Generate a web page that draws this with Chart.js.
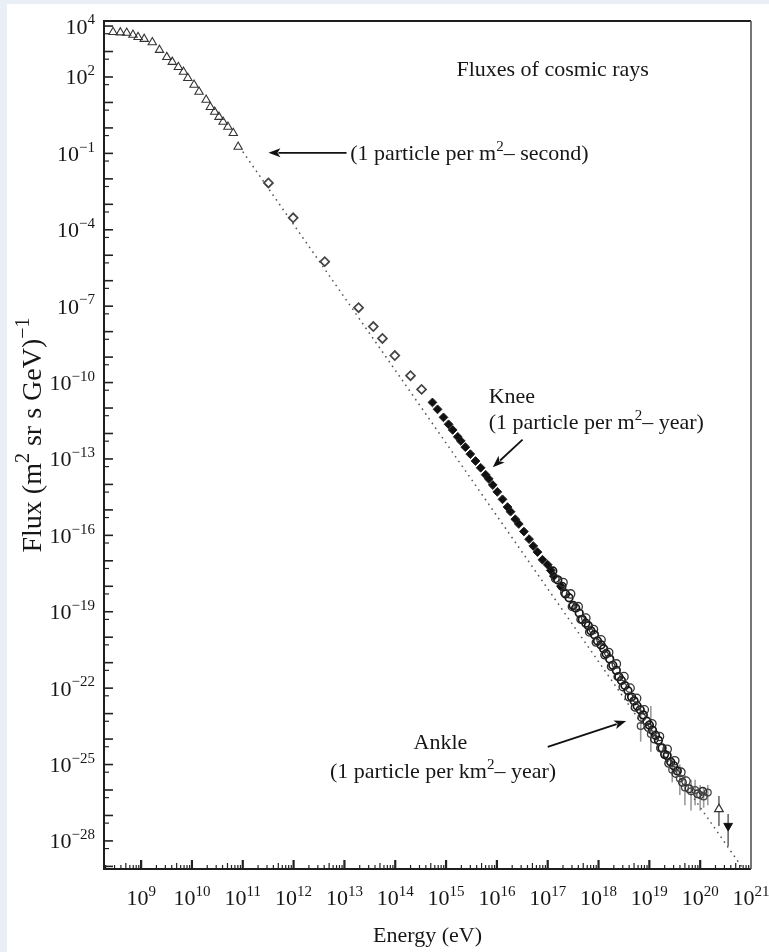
<!DOCTYPE html>
<html><head><meta charset="utf-8">
<script src="https://cdn.jsdelivr.net/npm/chart.js@4.4.1/dist/chart.umd.min.js"></script>
<style>
html,body{margin:0;padding:0;background:#e9eef7;width:769px;height:952px;overflow:hidden;}
#panel{position:absolute;left:7px;top:4px;width:762px;height:948px;background:#fff;}
canvas{display:block;}
</style></head><body>
<div id="panel"><canvas id="c" width="762" height="948"></canvas></div>
<script>
// ---------- data (energy in eV, flux in (m^2 sr s GeV)^-1) ----------
const triE = [2.8e8, 3.9e8, 5.2e8, 6.9e8, 8.7e8, 1.15e9, 1.66e9, 2.3e9, 3.2e9, 4.1e9, 5.4e9, 6.8e9, 8.3e9, 1.1e10, 1.38e10, 1.9e10, 2.3e10, 2.8e10, 3.4e10, 4.1e10, 5.1e10, 6.5e10, 8.1e10];
const triF = [5.8e3, 5.6e3, 5.4e3, 4.5e3, 3.7e3, 3.1e3, 2.3e3, 1.15e3, 600, 390, 245, 160, 91, 49, 26, 12.6, 6.6, 4.3, 2.7, 1.74, 1.1, 0.63, 0.18];

const diaE = [3.2e11, 9.8e11, 4.1e12, 1.9e13, 3.7e13, 5.6e13, 9.8e13, 2.0e14, 3.3e14];
const diaF = [6.9e-3, 2.95e-4, 5.6e-6, 8.7e-8, 1.58e-8, 5.4e-9, 1.15e-9, 1.86e-10, 5.4e-11];

const kneeE = [5.4e14, 6.8e14, 8.9e14, 1.12e15, 1.35e15, 1.7e15, 1.95e15, 2.4e15, 3.0e15, 3.8e15, 4.8e15, 6.0e15, 6.9e15, 8.3e15, 1.02e16, 1.29e16, 1.62e16, 1.86e16, 2.3e16, 2.7e16, 3.4e16, 4.3e16, 5.2e16, 6.3e16, 7.9e16, 1.0e17, 1.15e17, 1.32e17, 1.82e17];
const kneeF = [1.66e-11, 8.9e-12, 4.3e-12, 2.3e-12, 1.38e-12, 7.4e-13, 5.1e-13, 2.9e-13, 1.55e-13, 8.3e-14, 4.5e-14, 2.4e-14, 1.66e-14, 9.5e-15, 5.1e-15, 2.6e-15, 1.29e-15, 8.5e-16, 4.3e-16, 2.8e-16, 1.41e-16, 7.1e-17, 3.8e-17, 2.2e-17, 1.1e-17, 7.0e-18, 4.2e-18, 2.5e-18, 1.0e-18];

const bandE = [1.26e17, 1.58e17, 1.91e17, 2.24e17, 2.63e17, 3.16e17, 3.55e17, 4.17e17, 4.79e17, 5.62e17, 6.31e17, 7.08e17, 8.32e17, 9.55e17, 1.12e18, 1.26e18, 1.41e18, 1.66e18, 1.91e18, 2.24e18, 2.51e18, 2.82e18, 3.31e18, 3.80e18, 4.47e18, 5.01e18, 5.75e18, 6.61e18, 7.59e18, 8.91e18, 1.0e19, 1.15e19, 1.32e19, 1.51e19, 1.78e19, 2.0e19, 2.24e19, 2.63e19, 3.02e19, 3.55e19];
const bandF = [3.98e-18, 1.78e-18, 1.0e-18, 5.0e-19, 3.55e-19, 1.78e-19, 1.41e-19, 8.9e-20, 5.0e-20, 3.55e-20, 2.82e-20, 1.78e-20, 1.26e-20, 7.1e-21, 5.0e-21, 3.55e-21, 2.24e-21, 1.41e-21, 7.9e-22, 5.0e-22, 2.82e-22, 2.0e-22, 1.26e-22, 7.9e-23, 4.47e-23, 3.16e-23, 2.0e-23, 1.41e-23, 8.9e-24, 5.0e-24, 3.55e-24, 2.24e-24, 1.41e-24, 8.9e-25, 4.47e-25, 2.51e-25, 2.24e-25, 1.26e-25, 8.9e-26, 5.6e-26];

const outerE = [2.0e17, 2.82e17, 3.98e17, 5.62e17, 7.94e17, 1.12e18, 1.58e18, 2.24e18, 3.16e18, 4.17e18, 5.62e18, 7.94e18, 1.12e19, 1.58e19, 2.24e19, 3.16e19, 4.17e19, 5.25e19];
const outerF = [1.41e-18, 5.0e-19, 1.58e-19, 5.6e-20, 2.0e-20, 7.9e-21, 2.51e-21, 8.9e-22, 2.82e-22, 1.0e-22, 3.98e-23, 1.41e-23, 3.98e-24, 1.26e-24, 3.98e-25, 1.41e-25, 5.0e-26, 2.24e-26];

const innerE = [1.41e17, 2.14e17, 3.02e17, 4.47e17, 6.61e17, 8.91e17, 1.32e18, 1.78e18, 2.4e18, 3.02e18, 3.98e18, 5.25e18, 7.08e18, 9.55e18, 1.26e19, 1.66e19, 2.4e19, 3.31e19, 4.47e19, 6.03e19, 8.91e19, 1.12e20];
const innerF = [2.0e-18, 5.6e-19, 1.58e-19, 5.0e-20, 1.58e-20, 6.3e-21, 2.0e-21, 7.1e-22, 2.82e-22, 1.12e-22, 4.47e-23, 1.78e-23, 7.1e-24, 2.82e-24, 1.0e-24, 4.47e-25, 1.12e-25, 4.47e-26, 2.0e-26, 1.12e-26, 7.1e-27, 8.9e-27];

const errE  = [6.76e18, 1.07e19, 2.82e19, 3.98e19, 5.01e19, 6.61e19, 7.94e19, 1.0e20, 1.17e20, 1.41e20];
const errF  = [3.24e-24, 1.58e-24, 6.3e-26, 2.82e-26, 1.26e-26, 8.9e-27, 1.0e-26, 6.3e-27, 5.6e-27, 7.9e-27];
const errHi = [1.58e-23, 2.0e-23, 2.0e-25, 1.0e-25, 3.98e-26, 2.51e-26, 2.51e-26, 1.58e-26, 1.26e-26, 1.58e-26];
const errLo = [7.9e-25, 3.16e-25, 2.0e-26, 6.3e-27, 2.51e-27, 1.58e-27, 2.51e-27, 1.58e-27, 2.0e-27, 2.51e-27];

const topTriE = [2.34e20], topTriF = [1.78e-27], topTriHi = [5.75e-27], topTriLo = [3.9e-28];
const downTriE = [3.55e20], downTriF = [3.9e-28], downTriHi = [1.15e-27], downTriLo = [6.3e-29];

const guideE = [1.0e11, 7.0e20];
const guideF = [0.117, 8.0e-30];

const energyTicks = [1e9, 1e10, 1e11, 1e12, 1e13, 1e14, 1e15, 1e16, 1e17, 1e18, 1e19, 1e20, 1e21];
const energyTickExp = ['9','10','11','12','13','14','15','16','17','18','19','20','21'];
const fluxTicks = [1e4, 1e2, 1e-1, 1e-4, 1e-7, 1e-10, 1e-13, 1e-16, 1e-19, 1e-22, 1e-25, 1e-28];
const fluxTickExp = ['4','2','\u22121','\u22124','\u22127','\u221210','\u221213','\u221216','\u221219','\u221222','\u221225','\u221228'];

// annotations: anchors in data coordinates
const annotations = [
  {e: 1.6e15, f: 224, segs: [['Fluxes of cosmic rays']]},
  {e: 1.3e13, f: 0.105, segs: [['(1 particle per m'], ['2', 1], ['\u2013 second)']]},
  {e: 6.9e15, f: 3.1e-11, segs: [['Knee']]},
  {e: 6.9e15, f: 2.95e-12, segs: [['(1 particle per m'], ['2', 1], ['\u2013 year)']]},
  {e: 2.3e14, f: 8.3e-25, segs: [['Ankle']]},
  {e: 5.2e12, f: 5.6e-26, segs: [['(1 particle per km'], ['2', 1], ['\u2013 year)']]}
];
const arrows = [
  {fromE: 1.1e13, fromF: 0.105, toE: 3.2e11, toF: 0.105},
  {fromE: 3.2e16, fromF: 5.7e-13, toE: 8.3e15, toF: 4.7e-14},
  {fromE: 1.0e17, fromF: 4.9e-25, toE: 3.5e18, toF: 5.1e-24}
];

// ---------- helpers ----------
const FONT = "'Liberation Serif','Times New Roman',Times,serif";
const INK = '#161616';
const pts = (xs, ys) => xs.map((x, i) => ({x: x, y: ys[i]}));

function drawRich(ctx, segs, x, y, align, base, sup) {
  let w = 0;
  const m = segs.map(s => {
    ctx.font = (s[1] ? sup : base) + 'px ' + FONT;
    const ww = ctx.measureText(s[0]).width; w += ww; return ww;
  });
  let cx = align === 'center' ? x - w / 2 : (align === 'right' ? x - w : x);
  const baseY = y + base * 0.34;
  ctx.textBaseline = 'alphabetic';
  ctx.textAlign = 'left';
  segs.forEach((s, i) => {
    ctx.font = (s[1] ? sup : base) + 'px ' + FONT;
    ctx.fillText(s[0], cx, s[1] ? baseY - base * 0.42 : baseY);
    cx += m[i];
  });
}

const errorBars = {
  id: 'errorBars',
  beforeDatasetsDraw(chart) {
    const {ctx, chartArea: a, scales: {x, y}} = chart;
    ctx.save();
    ctx.beginPath(); ctx.rect(a.left, a.top, a.right - a.left, a.bottom - a.top); ctx.clip();
    chart.data.datasets.forEach(ds => {
      if (!ds.errHi) return;
      ctx.strokeStyle = ds.errColor || '#8a8a8a';
      ctx.lineWidth = 1.6;
      ds.data.forEach((p, i) => {
        const px = x.getPixelForValue(p.x);
        ctx.beginPath();
        ctx.moveTo(px, y.getPixelForValue(ds.errHi[i]));
        ctx.lineTo(px, y.getPixelForValue(ds.errLo[i]));
        ctx.stroke();
      });
    });
    ctx.restore();
  }
};

const frame = {
  id: 'frame',
  afterDraw(chart) {
    const {ctx, chartArea: a, scales: {x, y}} = chart;
    ctx.save();
    // inward ticks on bottom axis
    ctx.strokeStyle = '#222';
    for (let e = 8; e <= 20; e++) {
      for (let k = 1; k <= 9; k++) {
        const v = k * Math.pow(10, e);
        if (v < x.min * 0.999 || v > x.max * 1.001) continue;
        const px = x.getPixelForValue(v);
        const len = k === 1 ? 9 : (k === 5 ? 6 : 4);
        ctx.lineWidth = k === 1 ? 2.2 : 1.2;
        ctx.beginPath(); ctx.moveTo(px, a.bottom); ctx.lineTo(px, a.bottom - len); ctx.stroke();
      }
    }
    // inward ticks on left axis
    for (let e = -29; e <= 4; e++) {
      const v = Math.pow(10, e);
      if (v >= y.min && v <= y.max) {
        const py = y.getPixelForValue(v);
        ctx.lineWidth = 1.6;
        ctx.beginPath(); ctx.moveTo(a.left, py); ctx.lineTo(a.left + 9, py); ctx.stroke();
      }
      const h = 5 * Math.pow(10, e - 1);
      if (h >= y.min && h <= y.max) {
        const py = y.getPixelForValue(h);
        ctx.lineWidth = 1.2;
        ctx.beginPath(); ctx.moveTo(a.left, py); ctx.lineTo(a.left + 5, py); ctx.stroke();
      }
    }
    // frame
    ctx.lineWidth = 2;
    ctx.strokeStyle = '#1e1e1e';
    ctx.beginPath();
    ctx.moveTo(a.right, a.top); ctx.lineTo(a.left, a.top); ctx.lineTo(a.left, a.bottom); ctx.lineTo(a.right, a.bottom);
    ctx.stroke();
    ctx.lineWidth = 1.6; ctx.strokeStyle = '#555';
    ctx.beginPath(); ctx.moveTo(a.right, a.top); ctx.lineTo(a.right, a.bottom); ctx.stroke();

    ctx.fillStyle = INK;
    // x tick labels
    energyTicks.forEach((v, i) => {
      drawRich(ctx, [['10'], [energyTickExp[i], 1]], x.getPixelForValue(v), a.bottom + 29, 'center', 22, 15);
    });
    // y tick labels
    fluxTicks.forEach((v, i) => {
      drawRich(ctx, [['10'], [fluxTickExp[i], 1]], a.left - 9, y.getPixelForValue(v), 'right', 22, 15);
    });
    // y axis title
    ctx.save();
    ctx.translate(24, (a.top + a.bottom) / 2);
    ctx.rotate(-Math.PI / 2);
    drawRich(ctx, [['Flux (m'], ['2', 1], [' sr s GeV)'], ['\u22121', 1]], 10, 0, 'center', 28, 20);
    ctx.restore();

    // annotations
    annotations.forEach(an => {
      drawRich(ctx, an.segs, x.getPixelForValue(an.e), y.getPixelForValue(an.f), 'left', 22, 15);
    });
    ctx.strokeStyle = '#111'; ctx.fillStyle = '#111'; ctx.lineWidth = 1.8;
    arrows.forEach(ar => {
      const x0 = x.getPixelForValue(ar.fromE), y0 = y.getPixelForValue(ar.fromF);
      const x1 = x.getPixelForValue(ar.toE), y1 = y.getPixelForValue(ar.toF);
      const ang = Math.atan2(y1 - y0, x1 - x0);
      const L = 12, W = 4.5;
      const bx = x1 - L * Math.cos(ang), by = y1 - L * Math.sin(ang);
      ctx.beginPath(); ctx.moveTo(x0, y0); ctx.lineTo(bx + 2 * Math.cos(ang), by + 2 * Math.sin(ang)); ctx.stroke();
      ctx.beginPath();
      ctx.moveTo(x1, y1);
      ctx.lineTo(bx + W * Math.sin(ang), by - W * Math.cos(ang));
      ctx.lineTo(bx + 3 * Math.cos(ang), by + 3 * Math.sin(ang));
      ctx.lineTo(bx - W * Math.sin(ang), by + W * Math.cos(ang));
      ctx.closePath(); ctx.fill();
    });
    ctx.restore();
  }
};

new Chart(document.getElementById('c'), {
  type: 'scatter',
  data: {
    datasets: [
      {label: 'Highest (filled)', data: pts(downTriE, downTriF), errHi: downTriHi, errLo: downTriLo, errColor: '#6a6a6a',
       pointStyle: 'triangle', rotation: 180, pointRadius: 5, backgroundColor: '#111', borderColor: '#111', borderWidth: 1},
      {label: 'Highest (open)', data: pts(topTriE, topTriF), errHi: topTriHi, errLo: topTriLo, errColor: '#6a6a6a',
       pointStyle: 'triangle', pointRadius: 5, backgroundColor: '#fff', borderColor: '#333', borderWidth: 1.2},
      {label: 'UHE with errors', data: pts(errE, errF), errHi: errHi, errLo: errLo, errColor: '#9a9a9a',
       pointStyle: 'circle', pointRadius: 3.4, backgroundColor: 'rgba(255,255,255,0)', borderColor: '#444', borderWidth: 1.3},
      {label: 'UHE outer', data: pts(outerE, outerF),
       pointStyle: 'circle', pointRadius: 4.2, backgroundColor: 'rgba(255,255,255,0)', borderColor: '#333', borderWidth: 1.3},
      {label: 'UHE inner', data: pts(innerE, innerF),
       pointStyle: 'circle', pointRadius: 3.8, backgroundColor: 'rgba(255,255,255,0)', borderColor: '#2a2a2a', borderWidth: 1.4},
      {label: 'UHE band', data: pts(bandE, bandF),
       pointStyle: 'circle', pointRadius: 3.8, backgroundColor: 'rgba(255,255,255,0)', borderColor: '#151515', borderWidth: 1.7},
      {label: 'Knee', data: pts(kneeE, kneeF),
       pointStyle: 'rectRot', pointRadius: 4.4, backgroundColor: '#111', borderColor: '#222', borderWidth: 1},
      {label: 'Direct', data: pts(diaE, diaF),
       pointStyle: 'rectRot', pointRadius: 4.5, backgroundColor: '#fff', borderColor: '#444', borderWidth: 1.7},
      {label: 'Low energy', data: pts(triE, triF),
       pointStyle: 'triangle', pointRadius: 4.8, backgroundColor: 'rgba(255,255,255,0)', borderColor: '#333', borderWidth: 1.1},
      {label: 'Guide', data: pts(guideE, guideF), showLine: true, pointRadius: 0,
       borderColor: '#555', borderWidth: 1.5, borderDash: [1.6, 4.2], fill: false}
    ]
  },
  options: {
    responsive: false, animation: false, devicePixelRatio: 1,
    layout: {padding: {top: 17, right: 18, left: 0, bottom: 0}},
    plugins: {legend: {display: false}, tooltip: {enabled: false}},
    scales: {
      x: {
        type: 'logarithmic', min: 1.86e8, max: 1e21,
        grid: {display: false}, border: {display: false}, ticks: {display: false},
        afterBuildTicks: s => { s.ticks = energyTicks.map(v => ({value: v})); },
        afterFit: s => { s.height = 83; },
        title: {display: true, text: 'Energy (eV)', color: INK, font: {family: FONT, size: 22}, padding: {top: 0, bottom: 3}}
      },
      y: {
        type: 'logarithmic', min: 7.9e-30, max: 1.58e4,
        grid: {display: false}, border: {display: false}, ticks: {display: false},
        afterBuildTicks: s => { s.ticks = fluxTicks.map(v => ({value: v})); },
        afterFit: s => { s.width = 97; }
      }
    }
  },
  plugins: [errorBars, frame]
});
</script>
</body></html>
